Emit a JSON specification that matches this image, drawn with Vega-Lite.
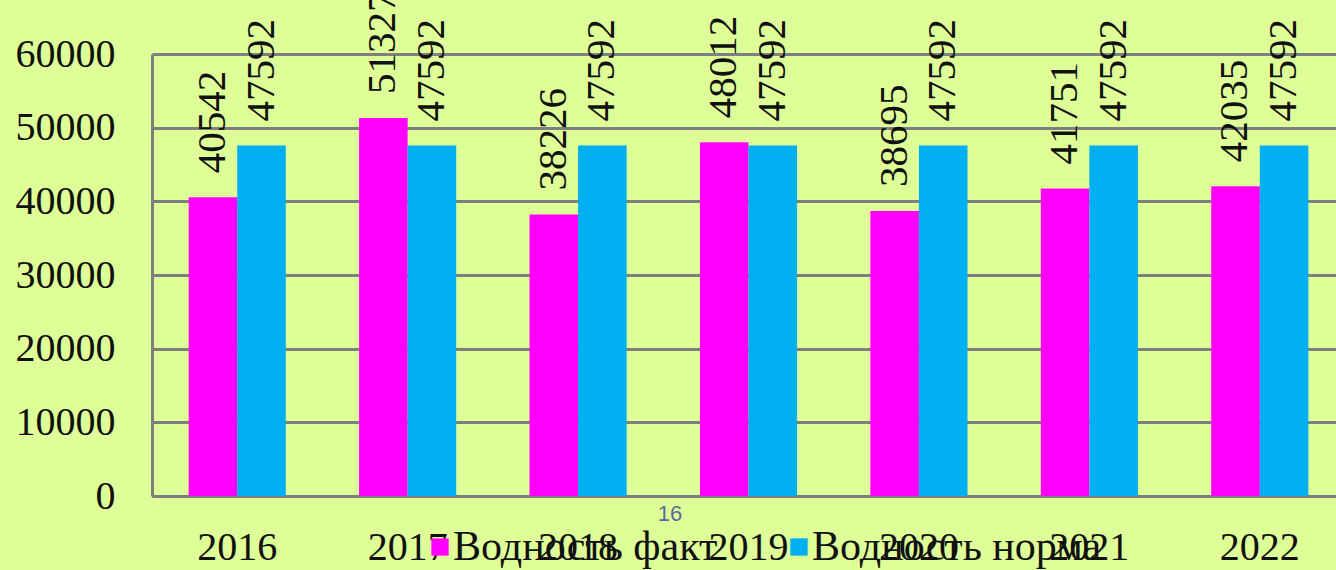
{
  "$schema": "https://vega.github.io/schema/vega-lite/v6.json",
  "width": 1184,
  "height": 442,
  "autosize": {"type": "none"},
  "padding": {"left": 152, "top": 54, "right": 0, "bottom": 74},
  "background": "#DEFE98",
  "config": {"view": {"stroke": null}, "font": "Liberation Serif"},
  "title": {"text": "16", "orient": "bottom", "anchor": "middle", "dx": -74, "offset": -64, "font": "Liberation Sans", "fontSize": 22, "fontWeight": "normal", "color": "#5A6A99"},
  "data": {
    "values": [
      {"year": "2016", "series": "Водность факт", "value": 40542},
      {"year": "2016", "series": "Водность норма", "value": 47592},
      {"year": "2017", "series": "Водность факт", "value": 51327},
      {"year": "2017", "series": "Водность норма", "value": 47592},
      {"year": "2018", "series": "Водность факт", "value": 38226},
      {"year": "2018", "series": "Водность норма", "value": 47592},
      {"year": "2019", "series": "Водность факт", "value": 48012},
      {"year": "2019", "series": "Водность норма", "value": 47592},
      {"year": "2020", "series": "Водность факт", "value": 38695},
      {"year": "2020", "series": "Водность норма", "value": 47592},
      {"year": "2021", "series": "Водность факт", "value": 41751},
      {"year": "2021", "series": "Водность норма", "value": 47592},
      {"year": "2022", "series": "Водность факт", "value": 42035},
      {"year": "2022", "series": "Водность норма", "value": 47592}
    ]
  },
  "encoding": {
    "x": {
      "field": "year", "type": "nominal",
      "scale": {"range": [0, 1193], "paddingInner": 0.43, "paddingOuter": 0.215},
      "axis": {"title": null, "labelAngle": 0, "labelFontSize": 40, "labelColor": "#111111", "labelPadding": 31, "ticks": false, "domainColor": "#7F7F7F", "domainWidth": 3, "grid": false}
    },
    "xOffset": {"field": "series", "sort": ["Водность факт", "Водность норма"]},
    "y": {
      "field": "value", "type": "quantitative",
      "scale": {"domain": [0, 60000]},
      "axis": {"title": null, "values": [0, 10000, 20000, 30000, 40000, 50000, 60000], "format": "d", "labelFontSize": 40, "labelColor": "#111111", "labelPadding": 37, "ticks": false, "domainColor": "#7F7F7F", "domainWidth": 3, "gridColor": "#7F7F7F", "gridWidth": 3, "gridOpacity": 1}
    }
  },
  "layer": [
    {
      "mark": {"type": "bar"},
      "encoding": {
        "color": {
          "field": "series", "type": "nominal",
          "scale": {"domain": ["Водность факт", "Водность норма"], "range": ["#FF00FF", "#00B0F0"]},
          "legend": {"title": null, "orient": "none", "direction": "horizontal", "legendX": 267, "legendY": 472, "padding": 0, "symbolType": "square", "symbolSize": 300, "symbolStrokeWidth": 0, "labelFontSize": 42, "labelColor": "#111111", "labelOffset": -8, "columnPadding": 60, "labelLimit": 400}
        }
      }
    },
    {
      "mark": {"type": "text", "angle": 270, "align": "left", "baseline": "middle", "dx": 24, "fontSize": 41, "color": "#111111"},
      "encoding": {"text": {"field": "value", "type": "quantitative", "format": "d"}}
    }
  ]
}
